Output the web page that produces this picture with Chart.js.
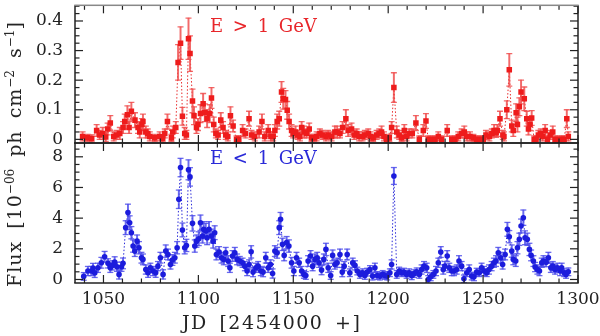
<!DOCTYPE html>
<html>
<head>
<meta charset="UTF-8">
<title>Light curve E &gt; 1 GeV / E &lt; 1 GeV</title>
<script src="https://cdn.jsdelivr.net/npm/chart.js@4"></script>
<style>
body{margin:0;background:#fff}
#wrap{position:relative;width:600px;height:336px;overflow:hidden}
#wrap canvas{position:absolute;left:0;top:0}
.txt{position:absolute;white-space:nowrap;font-family:"DejaVu Serif",serif;color:#222}
#lTop{left:210px;top:15px;font-size:18px;color:#e8262a;word-spacing:4px}
#lBot{left:210px;top:147px;font-size:18px;color:#2a2ad8;word-spacing:4px}
#xtitle{left:182px;top:311px;font-size:19px;letter-spacing:1.5px;word-spacing:4px}
#ytitle{left:14px;top:154px;font-size:19px;letter-spacing:1px;word-spacing:5px;
  transform:translate(-50%,-50%) rotate(-90deg)}
#ytitle sup{font-size:12px;vertical-align:7px;letter-spacing:0}
</style>
</head>
<body>
<div id="wrap">
  <canvas id="cTop" width="600" height="336"></canvas>
  <canvas id="cBot" width="600" height="336"></canvas>
  <div class="txt" id="lTop">E &gt; 1 GeV</div>
  <div class="txt" id="lBot">E &lt; 1 GeV</div>
  <div class="txt" id="xtitle">JD [2454000 +]</div>
  <div class="txt" id="ytitle">Flux [10<sup>−06</sup> ph cm<sup>−2</sup> s<sup>−1</sup>]</div>
</div>
<script>
// E > 1 GeV
const RED_JD=[1039.0,1041.7,1043.8,1046.4,1048.0,1049.6,1051.2,1052.2,1053.6,1055.4,1057.0,1058.6,1060.3,1061.2,1062.6,1063.5,1064.7,1066.6,1068.2,1069.1,1070.2,1070.8,1072.3,1073.3,1074.4,1077.0,1079.6,1081.2,1082.3,1083.7,1085.8,1086.5,1088.1,1089.3,1090.6,1091.6,1092.8,1093.7,1094.8,1095.6,1096.9,1097.7,1099.0,1099.8,1101.1,1102.5,1103.4,1104.6,1106.0,1106.9,1108.1,1109.2,1110.4,1111.8,1113.0,1114.4,1115.5,1116.9,1118.3,1120.1,1121.3,1123.3,1124.8,1126.7,1128.0,1129.7,1132.0,1133.5,1135.0,1136.8,1138.2,1139.4,1140.3,1141.5,1142.6,1143.8,1144.7,1145.9,1146.8,1147.8,1149.1,1149.9,1151.2,1152.3,1153.5,1154.4,1155.7,1157.0,1158.4,1159.6,1161.0,1162.3,1164.0,1165.4,1167.2,1168.4,1170.2,1171.9,1173.1,1174.6,1176.0,1177.7,1178.9,1180.7,1182.1,1183.4,1184.7,1186.5,1187.7,1189.5,1190.7,1192.1,1193.9,1195.3,1196.5,1197.8,1199.2,1200.6,1201.8,1203.0,1204.5,1205.8,1207.1,1208.5,1209.7,1211.1,1212.7,1214.6,1216.4,1218.5,1219.9,1221.1,1222.9,1224.7,1226.4,1228.2,1231.1,1233.5,1235.2,1236.9,1238.7,1240.1,1241.4,1243.1,1244.9,1246.6,1248.4,1250.1,1251.5,1253.3,1254.6,1255.8,1256.9,1257.5,1258.9,1260.4,1261.0,1262.5,1263.8,1265.1,1265.9,1267.4,1268.1,1269.1,1270.0,1271.7,1273.0,1273.9,1274.7,1275.6,1276.9,1277.9,1279.1,1280.4,1281.4,1282.7,1283.9,1285.3,1286.7,1287.9,1289.7,1291.5,1292.7,1294.1,1294.9];
const RED_FLUX=[0.010,0.005,0.003,0.030,0.015,0.020,0.008,0.035,0.055,0.010,0.015,0.020,0.040,0.060,0.083,0.040,0.095,0.065,0.040,0.025,0.050,0.060,0.025,0.020,0.010,0.005,0.010,0.003,0.020,0.060,0.005,0.025,0.040,0.260,0.325,0.078,0.020,0.015,0.340,0.290,0.130,0.080,0.040,0.050,0.087,0.120,0.090,0.070,0.087,0.140,0.050,0.020,0.015,0.065,0.040,0.015,0.010,0.080,0.045,0.000,0.000,0.030,0.020,0.070,0.015,0.010,0.025,0.060,0.010,0.030,0.010,0.010,0.030,0.060,0.070,0.160,0.137,0.135,0.098,0.060,0.030,0.020,0.025,0.015,0.010,0.040,0.025,0.020,0.035,0.005,0.005,0.010,0.020,0.015,0.010,0.015,0.010,0.025,0.025,0.020,0.040,0.070,0.030,0.035,0.015,0.020,0.010,0.010,0.015,0.020,0.010,0.005,0.015,0.020,0.025,0.010,0.000,0.005,0.040,0.175,0.025,0.015,0.005,0.030,0.010,0.020,0.020,0.055,0.000,0.030,0.062,0.000,0.000,0.000,0.010,0.000,0.030,0.000,0.000,0.010,0.020,0.025,0.010,0.010,0.005,0.000,0.000,0.000,0.015,0.010,0.020,0.030,0.022,0.030,0.070,0.015,0.010,0.100,0.235,0.045,0.030,0.090,0.050,0.110,0.160,0.137,0.070,0.035,0.050,0.072,0.000,0.000,0.015,0.020,0.010,0.030,0.000,0.015,0.025,0.000,0.000,0.000,0.000,0.070,0.010];
const RED_ERR=[0.015,0.012,0.012,0.020,0.015,0.020,0.015,0.020,0.025,0.015,0.015,0.020,0.020,0.025,0.030,0.020,0.030,0.025,0.020,0.020,0.020,0.025,0.020,0.015,0.015,0.012,0.015,0.012,0.015,0.025,0.012,0.020,0.020,0.060,0.055,0.030,0.020,0.015,0.070,0.060,0.040,0.030,0.020,0.020,0.030,0.035,0.030,0.030,0.030,0.035,0.025,0.015,0.015,0.025,0.020,0.015,0.015,0.030,0.020,0.012,0.012,0.020,0.015,0.025,0.015,0.015,0.020,0.025,0.015,0.020,0.015,0.015,0.020,0.025,0.025,0.035,0.035,0.030,0.030,0.025,0.020,0.015,0.020,0.015,0.015,0.020,0.020,0.015,0.020,0.012,0.012,0.015,0.015,0.015,0.015,0.015,0.015,0.020,0.020,0.015,0.020,0.030,0.020,0.020,0.015,0.015,0.015,0.015,0.015,0.015,0.015,0.012,0.015,0.015,0.020,0.015,0.012,0.012,0.020,0.050,0.020,0.015,0.012,0.020,0.015,0.015,0.015,0.025,0.012,0.020,0.025,0.012,0.012,0.012,0.015,0.012,0.020,0.012,0.012,0.015,0.015,0.020,0.015,0.015,0.012,0.012,0.012,0.012,0.015,0.015,0.015,0.020,0.015,0.020,0.025,0.015,0.015,0.030,0.055,0.020,0.020,0.030,0.025,0.030,0.040,0.040,0.025,0.020,0.020,0.025,0.012,0.012,0.015,0.015,0.015,0.020,0.012,0.015,0.020,0.012,0.012,0.012,0.012,0.030,0.015];

// E < 1 GeV
const BLUE_JD=[1039.6,1041.8,1043.6,1044.5,1045.4,1047.1,1048.9,1050.6,1052.4,1053.6,1054.7,1055.9,1057.1,1058.2,1059.5,1060.3,1061.7,1062.9,1063.8,1064.7,1065.6,1066.5,1067.7,1068.7,1070.0,1070.8,1072.3,1073.5,1074.7,1076.1,1077.5,1078.7,1080.0,1081.4,1082.8,1084.0,1085.3,1086.3,1087.6,1088.8,1089.7,1090.6,1091.6,1092.8,1093.7,1094.8,1095.6,1096.9,1098.1,1099.0,1100.2,1101.1,1102.2,1102.8,1103.9,1104.6,1105.6,1106.9,1107.8,1108.6,1109.5,1110.9,1112.2,1113.4,1114.4,1115.7,1116.6,1118.0,1119.2,1120.4,1121.8,1123.3,1124.5,1125.7,1126.7,1127.8,1128.8,1130.3,1131.5,1132.9,1134.1,1135.5,1136.8,1138.0,1139.1,1140.3,1141.5,1142.6,1143.3,1144.3,1145.2,1146.5,1147.7,1149.1,1150.3,1151.7,1153.1,1154.4,1155.6,1156.6,1157.8,1159.1,1160.2,1161.4,1162.6,1163.6,1164.9,1166.1,1167.2,1168.4,1169.7,1170.7,1171.9,1173.1,1174.6,1175.8,1176.8,1178.4,1179.8,1181.3,1182.5,1183.7,1185.1,1186.5,1187.7,1188.9,1190.4,1191.8,1193.0,1194.2,1195.6,1197.1,1198.3,1199.5,1200.9,1201.8,1203.0,1204.5,1205.8,1207.1,1208.3,1209.7,1211.1,1212.4,1213.6,1215.0,1216.4,1217.6,1218.9,1220.3,1221.1,1222.4,1223.8,1225.2,1226.4,1227.7,1229.0,1229.9,1231.1,1232.2,1233.5,1234.7,1236.1,1237.3,1238.7,1239.9,1241.4,1242.7,1244.0,1245.2,1246.6,1248.0,1249.2,1250.5,1251.9,1253.1,1254.5,1255.7,1256.8,1258.0,1259.3,1260.3,1261.6,1262.8,1263.8,1265.1,1265.9,1267.2,1268.1,1269.1,1270.0,1271.2,1272.1,1273.3,1274.4,1275.3,1276.5,1277.4,1278.6,1279.7,1280.9,1281.8,1283.2,1284.4,1285.7,1286.7,1287.9,1289.1,1290.6,1291.4,1292.7,1293.7,1294.9];
const BLUE_FLUX=[0.20,0.55,0.55,0.75,0.43,0.76,1.09,1.48,1.05,0.76,0.92,1.13,0.83,0.33,0.83,1.05,3.38,4.36,3.70,3.05,2.18,1.85,2.50,2.07,1.42,1.31,0.65,0.44,0.76,0.55,0.44,0.87,1.42,0.33,1.85,1.63,0.98,1.27,1.42,2.07,5.23,7.30,3.23,2.07,2.22,7.15,6.69,3.66,2.18,2.50,2.66,3.70,2.83,3.27,3.16,2.72,3.27,2.83,2.50,3.05,1.63,1.79,1.42,1.31,1.74,1.20,0.76,1.53,1.74,1.31,1.20,1.09,0.87,0.55,0.98,1.80,0.48,0.76,0.87,0.55,0.48,1.42,0.76,0.98,0.39,1.85,1.74,3.38,3.92,2.29,1.57,2.40,2.18,1.09,0.55,1.42,1.09,0.55,0.33,0.26,1.20,1.53,0.87,1.31,1.42,1.09,0.61,1.31,1.96,0.76,0.26,1.57,0.98,1.09,1.63,0.48,0.87,1.63,0.44,1.09,0.92,0.55,0.33,0.44,0.26,0.48,0.65,0.22,0.76,0.26,0.22,0.33,0.26,0.22,0.44,0.98,6.75,0.33,0.55,0.44,0.48,0.33,0.44,0.24,0.38,0.50,0.33,0.65,0.87,0.76,0.00,0.17,0.33,0.55,1.09,1.79,0.65,0.87,1.53,0.76,0.55,0.55,0.65,1.20,0.87,0.04,0.44,0.65,0.22,0.17,0.48,0.44,0.76,0.55,0.44,0.65,0.87,1.09,1.20,1.74,1.42,0.98,1.63,3.27,2.79,1.85,1.31,1.20,2.07,2.62,3.49,4.03,2.72,2.62,1.96,1.57,1.20,0.81,0.65,0.55,1.09,1.20,1.13,1.42,0.76,0.87,0.65,0.76,0.55,0.76,0.44,0.33,0.50];
const BLUE_ERR=[0.25,0.30,0.30,0.30,0.30,0.30,0.35,0.35,0.30,0.30,0.30,0.35,0.30,0.30,0.30,0.35,0.45,0.55,0.45,0.40,0.40,0.35,0.40,0.40,0.35,0.35,0.30,0.30,0.30,0.30,0.30,0.30,0.35,0.30,0.40,0.35,0.30,0.35,0.35,0.40,0.60,0.60,0.45,0.40,0.40,0.65,0.60,0.50,0.40,0.40,0.45,0.50,0.45,0.50,0.50,0.45,0.50,0.45,0.45,0.45,0.35,0.35,0.35,0.35,0.35,0.35,0.30,0.35,0.35,0.35,0.30,0.30,0.30,0.30,0.30,0.40,0.30,0.30,0.30,0.30,0.30,0.35,0.30,0.30,0.30,0.35,0.35,0.45,0.45,0.40,0.35,0.40,0.40,0.35,0.30,0.35,0.30,0.30,0.25,0.25,0.35,0.35,0.30,0.35,0.35,0.30,0.30,0.35,0.40,0.30,0.25,0.35,0.30,0.30,0.35,0.30,0.30,0.35,0.25,0.30,0.30,0.25,0.25,0.25,0.25,0.25,0.25,0.25,0.30,0.25,0.25,0.25,0.25,0.25,0.25,0.30,0.55,0.25,0.25,0.25,0.25,0.25,0.25,0.25,0.25,0.25,0.25,0.30,0.30,0.30,0.25,0.25,0.25,0.30,0.30,0.35,0.30,0.30,0.35,0.30,0.30,0.30,0.30,0.35,0.30,0.25,0.25,0.30,0.25,0.25,0.25,0.25,0.30,0.30,0.25,0.30,0.30,0.30,0.35,0.35,0.35,0.30,0.35,0.45,0.40,0.40,0.35,0.35,0.40,0.40,0.45,0.50,0.45,0.40,0.40,0.35,0.35,0.30,0.30,0.30,0.30,0.35,0.30,0.35,0.30,0.30,0.30,0.30,0.30,0.30,0.25,0.25,0.25];

const X_RANGE=[1035,1300], X_MAJOR=50, X_MINOR=10;
const TOP_RANGE=[-0.0123,0.453], TOP_MAJOR=0.1, TOP_MINOR=0.025;
const BOT_RANGE=[-0.23,8.9], BOT_MAJOR=2, BOT_MINOR=0.5;

const FONT='"DejaVu Serif", serif';

// frame + inward ticks on all four sides, drawn as thin filled rects
function makeFrame(c){
  return {
    id:'frame_'+c.name,
    afterDraw(chart){
      const {ctx,chartArea:a}=chart;
      const x=chart.scales.x, y=chart.scales.y;
      const near=(v,s)=>Math.abs(v/s-Math.round(v/s))<1e-6;
      ctx.save();
      ctx.setTransform(1,0,0,1,0,0);
      ctx.globalAlpha=1;ctx.globalCompositeOperation='source-over';
      ctx.fillStyle='#222';
      for(let v=Math.ceil(X_RANGE[0]/X_MINOR)*X_MINOR;v<=X_RANGE[1]+1e-9;v+=X_MINOR){
        const px=x.getPixelForValue(v), L=near(v,X_MAJOR)?8:4.5;
        ctx.fillRect(px-0.6,a.top,1.2,L);
        ctx.fillRect(px-0.6,a.bottom-L,1.2,L);
      }
      for(let k=Math.ceil(c.range[0]/c.minor);k*c.minor<=c.range[1]+1e-9;k++){
        const v=k*c.minor, py=y.getPixelForValue(v), L=near(v,c.major)?8:4.5;
        ctx.fillRect(a.left,py-0.6,L,1.2);
        ctx.fillRect(a.right-L,py-0.6,L,1.2);
      }
      ctx.fillRect(a.left-0.75,a.top,1.5,a.bottom-a.top);
      ctx.fillRect(a.right-0.75,a.top,1.5,a.bottom-a.top);
      ctx.fillRect(a.left-0.75,a.bottom-0.75,a.right-a.left+1.5,1.5);
      ctx.fillStyle=c.topColor;
      ctx.fillRect(a.left-0.75,a.top-0.75,a.right-a.left+1.5,1.5);
      ctx.restore();
    }
  };
}

function panel(id,jd,flux,err,c){
  const pts=jd.map((v,i)=>({x:v,y:flux[i]}));
  const bars=jd.map((v,i)=>({x:v,y:[flux[i]-err[i],flux[i]+err[i]]}));
  const caps=jd.map((v,i)=>({x:v,y:flux[i]-err[i]})).concat(jd.map((v,i)=>({x:v,y:flux[i]+err[i]})));
  const xScale={type:'linear',min:X_RANGE[0],max:X_RANGE[1],offset:false,display:c.showX,
    grid:{display:false,drawTicks:false,offset:false},border:{display:false},
    ticks:{stepSize:X_MAJOR,includeBounds:false,autoSkip:false,maxRotation:0,padding:6,
      color:'#222',font:{family:FONT,size:17},callback:v=>String(v)},
    afterFit:s=>{if(c.showX) s.height=53; s.paddingLeft=0; s.paddingRight=0;}};
  return new Chart(document.getElementById(id),{
    type:'scatter',
    data:{datasets:[
      {type:'line',data:pts,borderColor:c.line,borderWidth:1,borderDash:[1.5,2],pointRadius:0,fill:false,order:4},
      {type:'bar',data:bars,backgroundColor:c.err,barThickness:1.3,order:3},
      {data:caps,pointStyle:'line',pointRadius:3,borderColor:c.err,borderWidth:1.3,order:2},
      {data:pts,pointStyle:c.style,pointRadius:c.r,backgroundColor:c.pt,borderColor:c.pt,borderWidth:0,order:1}
    ]},
    options:{
      responsive:false,animation:false,events:[],
      layout:{padding:c.pad},
      plugins:{legend:{display:false},tooltip:{enabled:false}},
      scales:{
        x:xScale,
        y:{type:'linear',min:c.range[0],max:c.range[1],
          grid:{display:false,drawTicks:false},border:{display:false},
          ticks:{stepSize:c.major,includeBounds:false,autoSkip:false,padding:12,color:'#222',font:{family:FONT,size:17}},
          afterFit:s=>{s.width=75; s.paddingTop=0; s.paddingBottom=0;}}
      }
    },
    plugins:[makeFrame(c)]
  });
}

panel('cTop',RED_JD,RED_FLUX,RED_ERR,{name:'top',
  line:'#e82a2a',err:'rgba(240,80,80,0.85)',pt:'#ee1c1c',style:'rect',r:3.9,
  range:TOP_RANGE,major:TOP_MAJOR,minor:TOP_MINOR,showX:false,topColor:'#888',
  pad:{left:0,right:22,top:3,bottom:193}
});
panel('cBot',BLUE_JD,BLUE_FLUX,BLUE_ERR,{name:'bot',
  line:'#2a2ad8',err:'rgba(80,80,235,0.85)',pt:'#1c1cdc',style:'circle',r:2.8,
  range:BOT_RANGE,major:BOT_MAJOR,minor:BOT_MINOR,showX:true,topColor:'#222',
  pad:{left:0,right:22,top:143,bottom:0}
});
</script>
</body>
</html>
